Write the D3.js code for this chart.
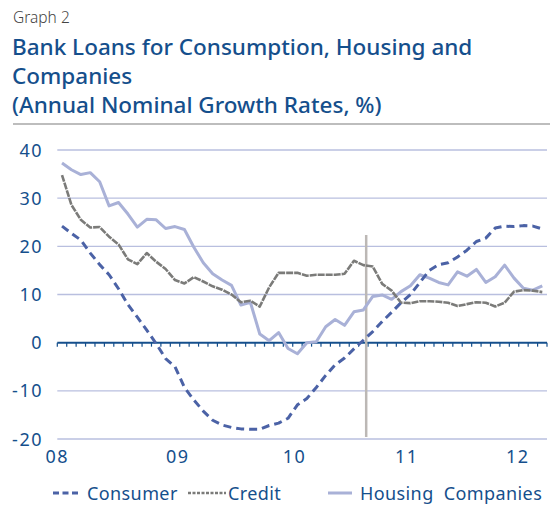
<!DOCTYPE html>
<html>
<head>
<meta charset="utf-8">
<script src="https://cdn.jsdelivr.net/npm/d3@7"></script>
<style>
  html, body { margin: 0; padding: 0; background: #fff; }
  svg { display: block; font-family: "Noto Sans", "Open Sans", sans-serif; }
</style>
</head>
<body>
<svg id="chart" width="550" height="512"></svg>
<script>
// Monthly observations, Jan 2008 – Apr 2012
const months = d3.range(52).map(i => new Date(2008, i, 1));

// Annual nominal growth rates (%)
const consumer = [24.2, 22.7, 21.3, 18.6, 16.2, 14.1, 11.2, 7.9, 5.3, 2.6, -0.2, -3.3,
  -5.0, -9.3, -11.9, -14.2, -16.1, -17.1, -17.6, -17.9, -18.0, -18.0, -17.2, -16.7,
  -15.7, -12.9, -11.6, -9.3, -6.8, -4.6, -3.2, -1.3, 0.5, 2.3, 4.4, 6.3,
  8.3, 10.0, 12.5, 15.0, 16.2, 16.6, 17.8, 19.2, 21.0, 21.7, 23.8, 24.2,
  24.1, 24.3, 24.2, 23.6];
const credit = [34.8, 28.6, 25.5, 23.9, 24.0, 22.0, 20.4, 17.3, 16.3, 18.6, 16.8, 15.3,
  13.0, 12.3, 13.6, 12.7, 11.7, 11.0, 10.0, 8.4, 8.7, 7.5, 11.5, 14.5,
  14.5, 14.5, 13.9, 14.1, 14.1, 14.1, 14.3, 17.0, 16.1, 15.8, 12.2, 10.8,
  8.3, 8.2, 8.6, 8.6, 8.5, 8.3, 7.6, 8.0, 8.4, 8.3, 7.5, 8.3,
  10.6, 10.9, 10.8, 10.5];
const housingCompanies = [37.3, 35.9, 34.9, 35.3, 33.4, 28.4, 29.1, 26.7, 24.0, 25.6, 25.5, 23.7,
  24.1, 23.5, 19.8, 16.6, 14.3, 13.0, 11.9, 7.8, 8.4, 1.8, 0.4, 2.1,
  -1.2, -2.3, 0.0, 0.2, 3.3, 4.8, 3.6, 6.4, 6.8, 9.6, 9.9, 9.0,
  10.6, 11.8, 14.1, 13.4, 12.5, 12.0, 14.7, 13.8, 15.2, 12.5, 13.7, 16.1,
  13.4, 11.3, 10.9, 11.8];

const yTicks = [-20, -10, 0, 10, 20, 30, 40];
const yearLabels = ["08", "09", "10", "11", "12"];
const seriesNames = ["Consumer", "Credit", "Housing  Companies"];

// Layout
const plot = { left: 57.3, right: 547, top: 150, bottom: 439 };
const yearLabelPos = [0, 12.8, 25.2, 37.1, 48.9];   // in month units from the axis start
const markerMonth = 32.3;                             // vertical reference line, late 2010
const blue = "#154f8c";

const svg = d3.select("#chart");

// Header
svg.append("text").attr("x", 13).attr("y", 23)
  .attr("font-size", 15.5).attr("fill", "#444").attr("font-weight", 300)
  .text("Graph 2");
const titleLines = ["Bank Loans for Consumption, Housing and", "Companies", "(Annual Nominal Growth Rates, %)"];
svg.append("g").selectAll("text").data(titleLines).join("text")
  .attr("x", 12).attr("y", (d, i) => 55 + i * 29)
  .attr("font-size", 22.5).attr("fill", blue).attr("font-weight", 500)
  .text(d => d);
svg.append("line").attr("x1", 13).attr("x2", 550).attr("y1", 124).attr("y2", 124)
  .attr("stroke", "#bdbdbd").attr("stroke-width", 2);

// Scales
const x = d3.scaleBand().domain(months).range([plot.left, plot.right]).padding(0);
const bw = x.bandwidth();
const cx = d => x(d) + bw / 2;
const y = d3.scaleLinear().domain([-20, 40]).range([plot.bottom, plot.top]);

// Gridlines
svg.append("g").selectAll("line").data(yTicks.filter(v => v !== 0)).join("line")
  .attr("x1", plot.left).attr("x2", plot.right)
  .attr("y1", d => y(d)).attr("y2", d => y(d))
  .attr("stroke", "#b9bfdf").attr("stroke-width", 1.4);

// Y axis labels
svg.append("g").selectAll("text").data(yTicks).join("text")
  .attr("x", 43).attr("y", d => y(d) + 6.5)
  .attr("text-anchor", "end").attr("font-size", 18).attr("letter-spacing", 1.5)
  .attr("fill", blue)
  .text(d => d);

// Zero axis with monthly tick marks
const zeroAxis = svg.append("g").attr("transform", `translate(0,${y(0)})`);
zeroAxis.append("line").attr("x1", plot.left).attr("x2", plot.right)
  .attr("stroke", blue).attr("stroke-width", 2);
zeroAxis.selectAll("line.tick").data(d3.range(53)).join("line").attr("class", "tick")
  .attr("x1", i => plot.left + i * bw).attr("x2", i => plot.left + i * bw)
  .attr("y1", 0).attr("y2", 4)
  .attr("stroke", blue).attr("stroke-width", 1.2);

// Year labels
svg.append("g").selectAll("text").data(yearLabels).join("text")
  .attr("x", (d, i) => plot.left + yearLabelPos[i] * bw)
  .attr("y", 463).attr("text-anchor", "middle")
  .attr("font-size", 18).attr("letter-spacing", 1.5).attr("fill", blue)
  .text(d => d);

// Vertical reference line
svg.append("line")
  .attr("x1", plot.left + (markerMonth + 0.5) * bw).attr("x2", plot.left + (markerMonth + 0.5) * bw)
  .attr("y1", 235).attr("y2", 437)
  .attr("stroke", "#bcb8b5").attr("stroke-width", 2.5);

// Series
const styles = [
  { data: consumer, color: "#4b62a6", width: 3, dash: "8,5" },
  { data: credit, color: "#7b7b79", width: 2.6, dash: "7,1" },
  { data: housingCompanies, color: "#a9b1d7", width: 3, dash: null }
];
const line = d3.line().x((d, i) => cx(months[i])).y(d => y(d));
const drawOrder = [2, 1, 0];
drawOrder.forEach(k => {
  const s = styles[k];
  svg.append("path").datum(s.data)
    .attr("d", line).attr("fill", "none")
    .attr("stroke", s.color).attr("stroke-width", s.width)
    .attr("stroke-linejoin", "round")
    .attr("stroke-dasharray", s.dash);
});

// Legend
const legend = [
  { name: seriesNames[0], x1: 53, x2: 80, tx: 87 },
  { name: seriesNames[1], x1: 188, x2: 226, tx: 228 },
  { name: seriesNames[2], x1: 328, x2: 352, tx: 360 }
];
const lg = svg.append("g");
legend.forEach((l, i) => {
  const s = styles[i];
  lg.append("line").attr("x1", l.x1).attr("x2", l.x2).attr("y1", 493).attr("y2", 493)
    .attr("stroke", s.color).attr("stroke-width", s.width)
    .attr("stroke-dasharray", i === 0 ? "6,3.5" : (i === 1 ? "3,1.5" : null));
  lg.append("text").attr("x", l.tx).attr("y", 499.5)
    .attr("font-size", 18).attr("letter-spacing", 0.4).attr("fill", blue)
    .attr("xml:space", "preserve")
    .text(l.name);
});
</script>
</body>
</html>
